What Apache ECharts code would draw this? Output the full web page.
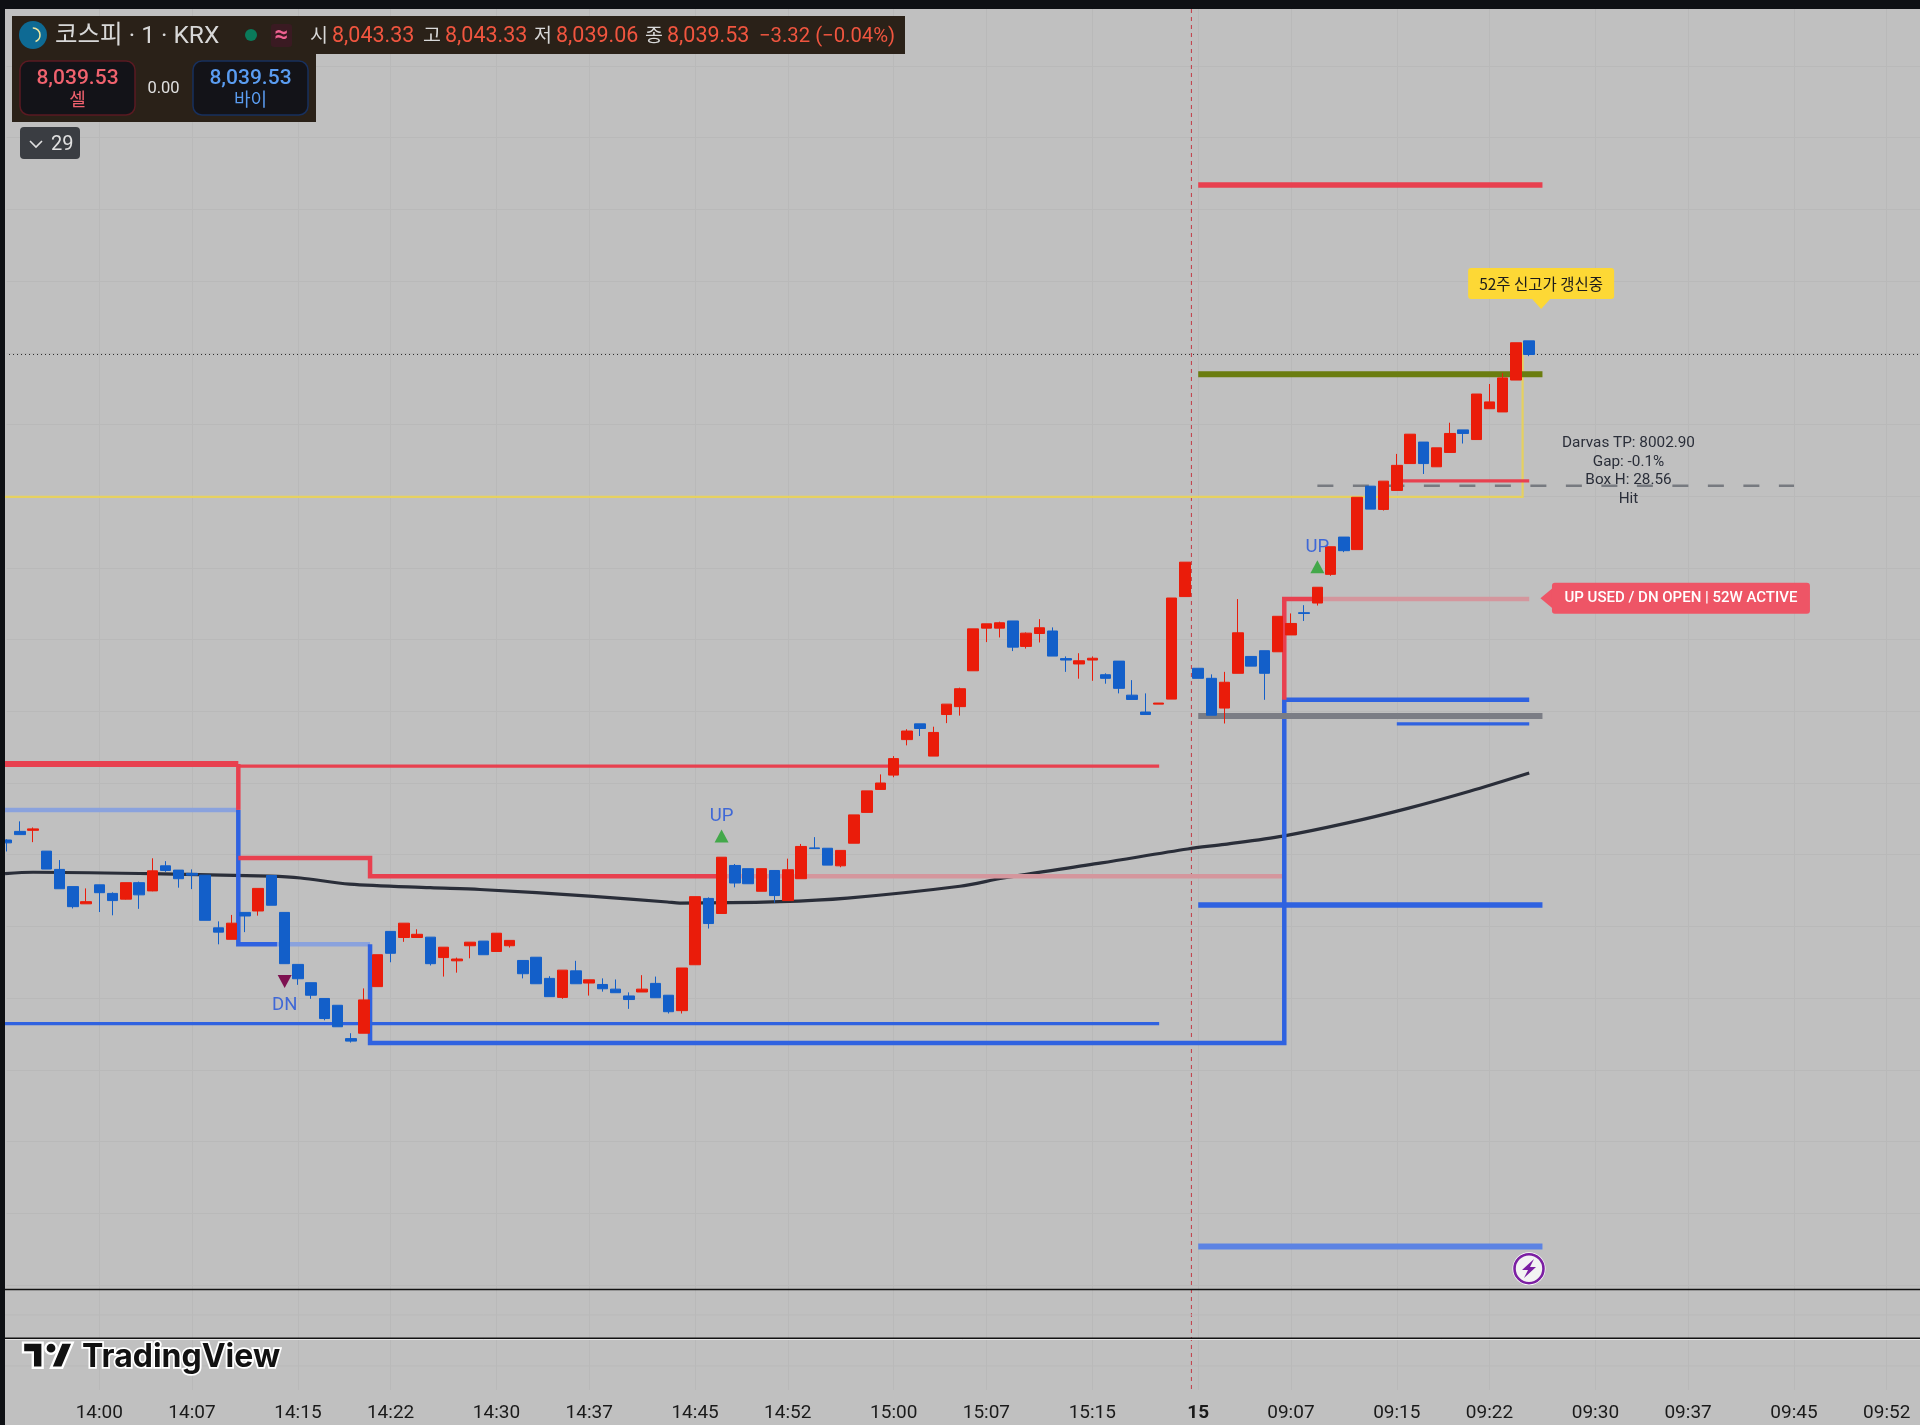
<!DOCTYPE html>
<html>
<head>
<meta charset="utf-8">
<style>html,body{margin:0;padding:0;background:#c0c0c0}#c{width:1920px;height:1425px}</style>
<script src="https://cdn.jsdelivr.net/npm/echarts@6/dist/echarts.min.js"></script>
</head>
<body>
<div id="c"></div>
<script>
// Candles from bar -7 (13:53) onward: [open, close, low, high]
const candles = [
[7904.1,7903.3,7900.9,7904.3],[7906.5,7905.6,7905.6,7909.3],[7906.8,7907.2,7903.5,7907.6],[7901.0,7896.0,7896.0,7901.0],
[7895.9,7890.5,7890.5,7898.5],[7891.1,7885.5,7885.0,7891.1],[7886.3,7886.9,7886.3,7890.6],[7891.6,7889.4,7884.0,7891.6],
[7889.2,7887.2,7883.1,7889.5],[7887.6,7892.2,7887.5,7892.2],[7892.2,7888.8,7884.9,7892.5],[7889.9,7895.5,7889.8,7899.0],
[7896.9,7895.6,7895.2,7898.2],[7895.7,7893.3,7890.8,7895.7],[7894.8,7894.3,7890.4,7895.9],[7894.3,7881.7,7881.7,7894.3],
[7879.6,7878.4,7875.0,7881.4],[7876.4,7880.9,7876.4,7883.2],[7883.9,7882.9,7878.4,7883.9],[7884.3,7890.6,7883.0,7890.6],
[7894.2,7885.9,7885.9,7894.2],[7883.9,7869.6,7869.6,7883.9],[7869.4,7865.4,7863.7,7869.4],[7864.3,7860.8,7859.8,7864.3],
[7859.9,7854.3,7853.8,7859.9],[7858.0,7852.0,7852.0,7858.0],[7848.7,7848.0,7847.6,7850.2],[7850.2,7859.5,7850.2,7862.7],
[7863.2,7872.1,7863.2,7872.1],[7878.6,7872.5,7870.0,7878.6],[7876.9,7880.9,7875.7,7880.9],[7876.9,7877.8,7876.9,7879.2],
[7877.0,7869.6,7869.1,7877.0],[7871.3,7874.2,7866.0,7874.2],[7870.4,7870.9,7867.1,7871.3],[7874.6,7875.6,7871.1,7875.6],
[7875.9,7872.1,7872.1,7875.9],[7873.0,7878.1,7873.0,7878.1],[7874.6,7876.1,7874.1,7876.1],[7870.5,7866.8,7865.5,7870.5],
[7871.4,7864.0,7864.0,7871.4],[7865.5,7860.4,7860.4,7866.1],[7860.2,7867.8,7859.8,7867.8],[7867.6,7864.0,7864.0,7870.4],
[7864.2,7865.1,7860.7,7865.1],[7863.8,7862.6,7861.8,7865.5],[7862.5,7861.5,7861.5,7865.2],[7860.6,7859.6,7857.0,7861.6],
[7861.7,7862.5,7861.7,7866.4],[7864.1,7860.1,7860.1,7866.0],[7860.8,7856.2,7855.7,7860.8],[7856.5,7868.4,7855.7,7868.4],
[7869.3,7888.3,7869.3,7888.3],[7887.8,7880.8,7879.4,7888.1],[7883.6,7899.3,7883.6,7899.3],[7897.0,7892.1,7890.9,7897.4],
[7896.1,7891.9,7891.9,7896.1],[7889.8,7896.1,7889.8,7896.1],[7895.6,7888.6,7886.6,7895.6],[7887.2,7895.8,7887.2,7898.9],
[7893.3,7902.3,7893.3,7903.0],[7901.9,7901.7,7901.7,7904.9],[7901.8,7897.1,7897.1,7901.8],[7896.9,7901.2,7896.5,7901.2],
[7903.2,7911.1,7903.2,7911.1],[7911.8,7917.8,7911.8,7917.8],[7918.2,7920.0,7918.2,7922.4],[7922.2,7926.8,7921.6,7927.5],
[7932.1,7934.5,7930.5,7935.0],[7936.5,7935.2,7933.1,7936.5],[7927.5,7934.1,7927.5,7935.7],[7939.1,7942.0,7936.7,7942.0],
[7941.3,7946.3,7938.8,7946.6],[7951.3,7963.0,7951.3,7963.0],[7963.2,7964.4,7959.3,7964.4],[7963.2,7964.7,7960.6,7965.0],
[7965.2,7957.9,7956.8,7965.2],[7958.1,7961.8,7957.5,7962.0],[7961.7,7963.3,7959.2,7965.7],[7962.4,7955.4,7955.4,7963.4],
[7954.7,7954.3,7951.0,7955.3],[7953.2,7954.1,7949.1,7956.2],[7954.3,7954.8,7948.5,7955.3],[7950.2,7949.2,7947.7,7950.6],
[7954.0,7946.4,7945.0,7954.0],[7944.5,7943.3,7943.3,7948.7],[7939.8,7939.1,7939.1,7945.0],[7942.0,7942.3,7942.0,7942.3],
[7943.4,7971.6,7943.4,7971.6],[7972.0,7981.6,7972.0,7981.6],[7952.0,7949.2,7949.2,7952.0],[7949.2,7938.9,7938.9,7950.3],
[7940.9,7948.1,7936.6,7951.0],[7950.6,7961.9,7950.6,7971.3],[7955.3,7952.6,7952.6,7955.3],[7956.9,7950.6,7943.2,7956.9],
[7956.6,7966.5,7956.6,7966.5],[7961.3,7964.5,7961.3,7967.3],[7967.5,7967.3,7965.2,7969.6],[7970.2,7974.6,7969.5,7974.6],
[7978.2,7985.9,7977.8,7985.9],[7988.6,7984.8,7984.4,7988.6],[7985.1,7999.7,7985.1,7999.7],[8002.8,7996.4,7996.4,8002.8],
[7996.3,8004.2,7996.0,8004.2],[8001.6,8008.6,8001.6,8011.8],[8009.1,8017.3,8009.1,8017.3],[8015.1,8009.1,8006.2,8015.1],
[8008.2,8013.5,8008.2,8013.5],[8012.2,8017.5,8012.2,8020.5],[8018.5,8017.5,8014.7,8018.5],[8015.8,8028.5,8015.8,8028.5],
[8024.4,8026.3,8024.4,8031.3],[8023.5,8033.0,8023.5,8034.3],[8032.4,8042.8,8032.4,8042.8],[8043.33,8039.53,8039.06,8043.33]
];
const tickLabels = ['14:00','14:07','14:15','14:22','14:30','14:37','14:45','14:52','15:00','15:07','15:15','15','09:07','09:15','09:22','09:30','09:37','09:45','09:52'];
const pad2 = n => String(n).padStart(2,'0');
const categories = [];
for (let m = 13*60+53; m <= 15*60+22; m++) categories.push(pad2(Math.floor(m/60))+':'+pad2(m%60));
categories.push('15');
for (let m = 9*60+1; m <= 9*60+55; m++) categories.push(pad2(Math.floor(m/60))+':'+pad2(m%60));

// Overlay lines: [bar position, price], bar 0 = 14:00
const L = -7.12;
const ema = [[L,7894.7],[-5,7895.1],[3.83,7894.7],[12.9,7894.0],[15.2,7893.5],[18.9,7891.8],[25,7890.8],[28.75,7890.3],[37.3,7888.4],[42.9,7886.8],[43.85,7886.5],[51.4,7886.9],[56.5,7887.9],[65,7891.2],[68.3,7893.5],[75.7,7897.7],[82.2,7901.6],[85,7902.9],[89.4,7905.2],[94.2,7908.8],[98.9,7913.0],[103.5,7917.7],[108,7922.8]];
const resThick = [[L,7925.3],[10.5,7925.3]];
const resDrop = [[10.5,7925.3],[10.5,7912.5]];
const resThin = [[10.5,7924.7],[80.05,7924.7]];
const supLight1 = [[L,7912.5],[10.5,7912.5]];
const supStep1 = [[10.5,7912.5],[10.5,7875.0],[13.42,7875.0]];
const supLight2 = [[13.42,7875.0],[20.45,7875.0]];
const supStep2 = [[20.45,7875.0],[20.45,7847.5],[89.5,7847.5],[89.5,7943.2],[108,7943.2]];
const resStep1 = [[10.5,7899.1],[20.45,7899.1],[20.45,7894.0],[47,7894.0]];
const resUsed1 = [[47,7894.0],[89.5,7894.0]];
const resStep2 = [[89.5,7943.2],[89.5,7971.3],[92,7971.3]];
const resUsed2 = [[92,7971.3],[108,7971.3]];
const supThin = [[L,7852.9],[80.05,7852.9]];
const topRed = [[83,8086.8],[109,8086.8]];
const olive = [[83,8034.0],[109,8034.0]];
const grey = [[83,7938.7],[109,7938.7]];
const midBlue = [[83,7886.0],[109,7886.0]];
const lowBlue = [[83,7790.7],[109,7790.7]];
const shortBlue = [[98,7936.5],[108,7936.5]];
const shortRed = [[98,8004.3],[108,8004.3]];
const yellowBox = [[L,7999.8],[107.5,7999.8],[107.5,8042.8]];
const darvasDash = [[92,8002.9],[128,8002.9]];
const lastClose = [[L,8039.53],[138,8039.53]];
const upSignals = [[47,7905.2],[92,7980.3]];
const dnSignals = [[14,7864.6]];

const RED='#e8404f', BLUE='#2f62e0', LBLUE='#8aa2dd', PINK='#d4969d';
const line = (data,color,width,extra) => Object.assign({type:'line',xAxisIndex:1,yAxisIndex:0,data,symbol:'none',silent:true,z:3,clip:false,
  lineStyle:{color,width,cap:'butt',join:'miter'},animation:false},extra||{});

const font = 'Roboto, "Noto Sans CJK KR", sans-serif';
const T = (text,x,y,fill,size,extra) => ({type:'text',z:100,style:Object.assign({text,x,y,fill,font:`${(extra&&extra.w)||400} ${size}px ${font}`,verticalAlign:'middle',align:(extra&&extra.a)||'left'},extra&&extra.s||{})});
const R = (x,y,w,h,fill,stroke,r) => ({type:'rect',z:99,shape:{x,y,width:w,height:h,r:r||0},style:{fill,stroke:stroke||null,lineWidth:stroke?1.5:0}});
const HL = (y,stroke,w) => ({type:'line',z:1,shape:{x1:5,y1:y,x2:1920,y2:y},style:{stroke,lineWidth:w}});
const QRED='#f0553f';
const logoPts = pts => pts.map(p => [23+p[0]*1.4, 1337+p[1]*1.4]);
const GRIDC='#b9b9b9';

const chart = echarts.init(document.getElementById('c'),null,{renderer:'canvas',width:1920,height:1425});
const isTick = (i,v) => tickLabels.includes(v);
chart.setOption({
  animation:false,
  backgroundColor:'#c0c0c0',
  grid:[
    {left:6.62,width:1919.8,top:-5.7,height:1290.6,containLabel:false,outerBoundsMode:'none'},
    {left:6.62,width:1919.8,top:1285,height:105,containLabel:false,outerBoundsMode:'none'}
  ],
  xAxis:[
    {type:'category',gridIndex:0,data:categories,boundaryGap:false,axisLabel:{show:false},axisLine:{show:false},axisTick:{show:false},
      splitLine:{show:true,interval:isTick,lineStyle:{color:GRIDC,width:1}}},
    {type:'value',gridIndex:0,min:-7,max:138,show:false,splitLine:{show:false}},
    {type:'category',gridIndex:1,data:categories,boundaryGap:false,axisLine:{show:false},axisTick:{show:false},
      splitLine:{show:true,interval:isTick,lineStyle:{color:GRIDC,width:1}},
      axisLabel:{interval:isTick,margin:14,color:'#1a1a1a',fontFamily:'Roboto',fontSize:19,hideOverlap:false,
        formatter:v=>v==='15'?'{b|15}':v,rich:{b:{fontWeight:700,fontSize:19,color:'#1a1a1a',fontFamily:'Roboto'}}}}
  ],
  yAxis:[
    {type:'value',gridIndex:0,min:7780,max:8140,interval:20,axisLabel:{show:false},axisLine:{show:false},axisTick:{show:false},
      splitLine:{show:true,lineStyle:{color:GRIDC,width:1}}},
    {type:'value',gridIndex:1,min:0,max:1,show:false,splitLine:{show:false}}
  ],
  series:[
    {type:'line',xAxisIndex:2,yAxisIndex:1,data:[],silent:true},
    line(yellowBox,'#e6d160',2.2),
    line(lastClose,'#2a2a2a',1,{lineStyle:{color:'#2a2a2a',width:1,type:[1,3]}}),
    line(darvasDash,'#777a80',2.5,{lineStyle:{color:'#777a80',width:2.5,type:[16,19.5]}}),
    line(ema,'#2a2e39',3.2,{smooth:0.3,z:3}),
    line(supLight1,LBLUE,4.5),
    line(supLight2,LBLUE,4.5),
    line(resUsed1,PINK,4.5),
    line(resUsed2,PINK,4.5),
    line(supThin,BLUE,3.2),
    line(supStep1,BLUE,4.5),
    line(supStep2,BLUE,4.5),
    line(resThin,RED,3.2),
    line(resThick,RED,6),
    line(resDrop,RED,4.5),
    line(resStep1,RED,4.5),
    line(resStep2,RED,4.5),
    line(topRed,RED,5.5),
    line(olive,'#6b7d0f',6),
    line(grey,'#7b7d85',6),
    line(midBlue,BLUE,5.5),
    line(lowBlue,'#5c83e3',6),
    line(shortBlue,BLUE,3.2),
    line(shortRed,RED,3.2),
    {type:'candlestick',xAxisIndex:0,yAxisIndex:0,data:candles,barWidth:11,clip:false,z:5,silent:true,
      itemStyle:{color:'#ea1c0a',color0:'#135fc9',borderColor:'#ea1c0a',borderColor0:'#135fc9',borderWidth:1}},
    {type:'scatter',xAxisIndex:1,yAxisIndex:0,data:upSignals,symbol:'triangle',symbolSize:[14,13],silent:true,z:6,clip:false,
      itemStyle:{color:'#43a84a',opacity:1},
      label:{show:true,position:'top',distance:3.5,formatter:'UP',color:'#3f68d6',fontFamily:'Roboto',fontSize:18.5}},
    {type:'scatter',xAxisIndex:1,yAxisIndex:0,data:dnSignals,symbol:'triangle',symbolRotate:180,symbolSize:[14,13],silent:true,z:6,clip:false,
      itemStyle:{color:'#7d1150',opacity:1},
      label:{show:true,position:'bottom',distance:8,formatter:'DN',color:'#3f68d6',fontFamily:'Roboto',fontSize:18.5}},
    {type:'scatter',xAxisIndex:1,yAxisIndex:0,data:[[108.9,8053.6]],symbol:'triangle',symbolRotate:180,symbolSize:[18,10],silent:true,z:7,clip:false,itemStyle:{color:'#fdd835',opacity:1}},
    {type:'scatter',xAxisIndex:1,yAxisIndex:0,data:[[108.9,8059.3]],symbol:'rect',symbolSize:0,silent:true,z:8,clip:false,itemStyle:{opacity:1},
      label:{show:true,position:'inside',formatter:'52주 신고가 갱신중',color:'#1c1c1c',fontFamily:'"Noto Sans CJK KR"',fontSize:15.5,
        backgroundColor:'#fdd835',width:146,height:31,lineHeight:31,align:'center',verticalAlign:'middle',borderRadius:3}},
    {type:'scatter',xAxisIndex:1,yAxisIndex:0,data:[[109.3,7971.5]],symbol:'triangle',symbolRotate:90,symbolSize:[20,12],silent:true,z:7,clip:false,itemStyle:{color:'#ee5566',opacity:1}},
    {type:'scatter',xAxisIndex:1,yAxisIndex:0,data:[[119.46,7971.5]],symbol:'rect',symbolSize:0,silent:true,z:8,clip:false,itemStyle:{opacity:1},
      label:{show:true,position:'inside',formatter:'UP USED / DN OPEN | 52W ACTIVE',color:'#fff',fontFamily:'Roboto',fontWeight:500,fontSize:15,
        backgroundColor:'#ee5566',width:258,height:31,lineHeight:31,align:'center',verticalAlign:'middle',borderRadius:3}},
    {type:'scatter',xAxisIndex:1,yAxisIndex:0,data:[[115.5,8007.0]],symbol:'rect',symbolSize:0,silent:true,z:8,clip:false,itemStyle:{opacity:1},
      label:{show:true,position:'inside',formatter:'Darvas TP: 8002.90\nGap: -0.1%\nBox H: 28.56\nHit',color:'#2a2e39',fontFamily:'Roboto',fontSize:15.3,lineHeight:18.5,align:'center',verticalAlign:'middle'}}
  ],
  graphic:{elements:[
    // session break
    {type:'line',z:1,shape:{x1:1191.4,y1:9,x2:1191.4,y2:1390},style:{stroke:'#c23a44',lineWidth:1,lineDash:[4,4]}},
    // lower panes
    HL(1315,GRIDC,1),HL(1366,GRIDC,1),
    {type:'line',z:2,shape:{x1:5,y1:1339.5,x2:1920,y2:1339.5},style:{stroke:'#e4e4e4',lineWidth:1}},
    HL(1289.5,'#111',1.4),
    Object.assign(HL(1338.3,'#111',1.6),{z:2}),
    // frame
    {type:'rect',z:98,shape:{x:0,y:0,width:1920,height:9},style:{fill:'#0e1014'}},
    {type:'rect',z:98,shape:{x:0,y:0,width:5,height:1425},style:{fill:'#0e1014'}},
    // header
    R(12,16,893,38,'#2a2118'),
    R(12,54,304,68,'#2a2118'),
    {type:'circle',z:100,shape:{cx:33,cy:35,r:14},style:{fill:'#0e6a94'}},
    {type:'arc',z:101,shape:{cx:33,cy:35,r:7,startAngle:-1.6,endAngle:1.2},style:{stroke:'#f0e6a0',lineWidth:1.5,fill:null}},
    T('코스피 · 1 · KRX',55,37,'#d8d8d8',24.5),
    {type:'circle',z:100,shape:{cx:251,cy:35,r:6},style:{fill:'#0a7a5a'}},
    R(271,24,21,23,'#3a1a22',null,3),
    T('≈',281.5,36,'#f06292',24,{a:'center',w:700}),
    T('시',310,37,'#d8d8d8',19.5),T('8,043.33',332,37,QRED,21.5),
    T('고',423,37,'#d8d8d8',19.5),T('8,043.33',445,37,QRED,21.5),
    T('저',534,37,'#d8d8d8',19.5),T('8,039.06',556,37,QRED,21.5),
    T('종',645,37,'#d8d8d8',19.5),T('8,039.53',667,37,QRED,21.5),
    T('−3.32 (−0.04%)',759,37,QRED,20.3),
    R(20,61,115,54,'#131318','#5a1a22',9),
    R(193,61,115,54,'#131318','#17305e',9),
    T('8,039.53',77.5,79,'#f0626e',21,{a:'center',w:500}),
    T('셀',77.5,101,'#f0626e',18,{a:'center'}),
    T('8,039.53',250.5,79,'#5a9cf0',21,{a:'center',w:500}),
    T('바이',250.5,101,'#5a9cf0',18,{a:'center'}),
    T('0.00',163.5,89,'#e0e0e0',16.5,{a:'center'}),
    R(20,127,60,32,'#3a3d42',null,4),
    {type:'polyline',z:100,shape:{points:[[30,141],[36,147],[42,141]]},style:{stroke:'#e0e0e0',lineWidth:1.6,fill:null}},
    T('29',51,144.5,'#e0e0e0',20),
    // watermark
    {type:'polygon',z:100,shape:{points:logoPts([[14,22],[7,22],[7,11],[0,11],[0,4],[14,4]])},style:{fill:'#111',stroke:'#fff',lineWidth:2.4}},
    {type:'polygon',z:100,shape:{points:logoPts([[28,22],[20,22],[27.5,4],[35.5,4]])},style:{fill:'#111',stroke:'#fff',lineWidth:2.4}},
    {type:'circle',z:100,shape:{cx:51,cy:1348.2,r:5.6},style:{fill:'#111',stroke:'#fff',lineWidth:2.4}},
    {type:'text',z:100,style:{text:'TradingView',x:82,y:1357,fill:'#111',stroke:'#fff',lineWidth:3.5,font:'700 32px Inter, Roboto, sans-serif',verticalAlign:'middle',align:'left'}},
    // alert icon
    {type:'circle',z:100,shape:{cx:1529,cy:1268.7,r:16.5},style:{fill:'#fff'}},
    {type:'circle',z:101,shape:{cx:1529,cy:1268.7,r:14.5},style:{fill:'#f3f3f3',stroke:'#7b1fa2',lineWidth:2.6}},
    {type:'polygon',z:102,shape:{points:[[1534,1259],[1522,1270],[1528,1270],[1524,1278],[1536,1267],[1530,1267]]},style:{fill:'#7b1fa2'}}
  ]}
});
</script>
</body>
</html>
